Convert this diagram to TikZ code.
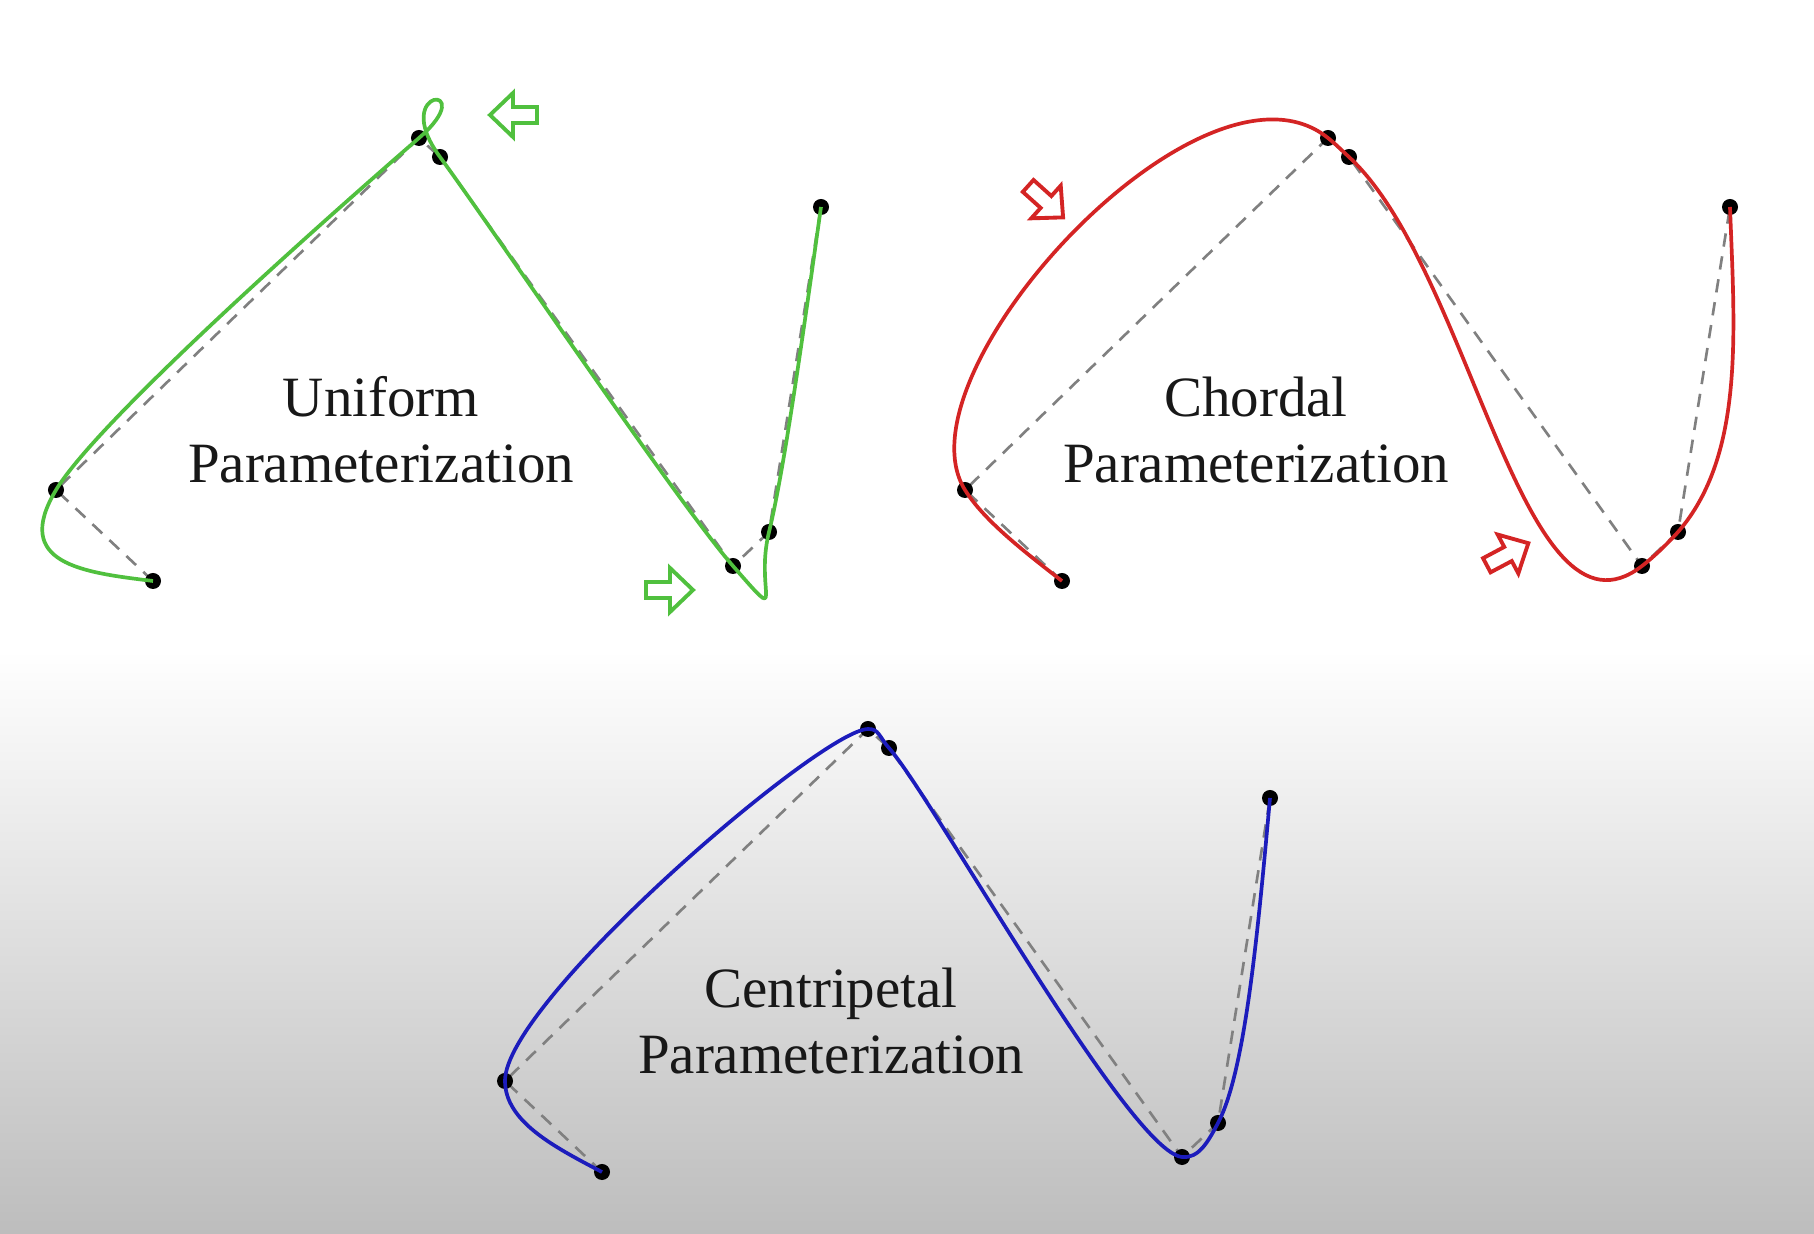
\documentclass[tikz,border=0pt]{standalone}
\usepackage{fontspec}
\setmainfont{Liberation Serif}
\definecolor{cgreen}{RGB}{80,192,62}
\definecolor{cred}{RGB}{212,36,36}
\definecolor{cblue}{RGB}{28,28,188}
\definecolor{bgbot}{RGB}{189,189,189}
\definecolor{txt}{RGB}{24,24,24}
\begin{document}
\begin{tikzpicture}[x=0.01cm,y=-0.01cm,
 ctrl/.style={draw=gray, dash pattern=on 3.8pt off 2.8pt, line width=0.75pt},
 curve/.style={line width=1.05pt, line join=round},
 lbl/.style={font=\fontsize{16.2}{19}\selectfont, text=txt, inner sep=0pt, anchor=base},
 blockarrow/.pic={\draw[pic actions, line width=1.1pt, line join=miter] (-24,-8) -- (0,-8) -- (0,-22) -- (23,0) -- (0,22) -- (0,8) -- (-24,8) -- cycle;}
]
\fill[white] (0,0) rectangle (1814,1234);
\shade[top color=white, bottom color=bgbot] (0,650) rectangle (1814,1234);
\useasboundingbox (0,0) rectangle (1814,1234);

% ---------------- Uniform (green) ----------------
\begin{scope}
\coordinate (g0) at (153,581);
\coordinate (g1) at (56,490);
\coordinate (g2) at (419,138);
\coordinate (g3) at (440,157);
\coordinate (g4) at (733,566);
\coordinate (g5) at (769,532);
\coordinate (g6) at (821,207);
\draw[ctrl] (g0) -- (g1) -- (g2) -- (g3) -- (g4) -- (g5) -- (g6);
\foreach \p in {g0,g1,g2,g3,g4,g5,g6} \fill[black] (\p) circle[radius=0.8mm];
\draw[curve, cgreen] (g0) .. controls (82.3,572.4) and (11.7,563.8) .. (g1)
  .. controls (100.3,416.2) and (355,193.5) .. (g2)
  .. controls (483,82.5) and (387.7,85.7) .. (g3)
  .. controls (492.3,228.3) and (678.2,503.5) .. (g4)
  .. controls (787.8,628.5) and (754.3,591.8) .. (g5)
  .. controls (783.7,472.2) and (802.3,339.6) .. (g6);
\end{scope}
\node[lbl] (u1) at (381,416.5) {Uniform};
\node[lbl] (u2) at (381,482.5) {Parameterization};
\pic (ga1) [draw=cgreen, rotate=180] at (513,115) {blockarrow};
\pic (ga2) [draw=cgreen] at (670,590) {blockarrow};

% ---------------- Chordal (red) ----------------
\begin{scope}[shift={(909,0)}]
\coordinate (r0) at (153,581);
\coordinate (r1) at (56,490);
\coordinate (r2) at (419,138);
\coordinate (r3) at (440,157);
\coordinate (r4) at (733,566);
\coordinate (r5) at (769,532);
\coordinate (r6) at (821,207);
\draw[ctrl] (r0) -- (r1) -- (r2) -- (r3) -- (r4) -- (r5) -- (r6);
\foreach \p in {r0,r1,r2,r3,r4,r5,r6} \fill[black] (\p) circle[radius=0.8mm];
\draw[curve, cred] (r0) .. controls (114.0,550.7) and (75.0,520.4) .. (r1)
  .. controls (-16.1,374.3) and (294.2,37.2) .. (r2)
  .. controls (426.0,143.6) and (433.1,150.6) .. (r3)
  .. controls (562.9,270.8) and (613.2,658.6) .. (r4)
  .. controls (744.8,556.9) and (758.2,544.0) .. (r5)
  .. controls (836,455) and (825.5,330) .. (r6);
\end{scope}
\node[lbl] (c1) at (1256,416.5) {Chordal};
\node[lbl] (c2) at (1256,482.5) {Parameterization};
\pic (ra1) [draw=cred, rotate=-42] at (1046,202) {blockarrow};
\pic (ra2) [draw=cred, rotate=28] at (1508,554) {blockarrow};

% ---------------- Centripetal (blue) ----------------
\begin{scope}[shift={(449,591)}]
\coordinate (b0) at (153,581);
\coordinate (b1) at (56,490);
\coordinate (b2) at (419,138);
\coordinate (b3) at (440,157);
\coordinate (b4) at (733,566);
\coordinate (b5) at (769,532);
\coordinate (b6) at (821,207);
\draw[ctrl] (b0) -- (b1) -- (b2) -- (b3) -- (b4) -- (b5) -- (b6);
\foreach \p in {b0,b1,b2,b3,b4,b5,b6} \fill[black] (\p) circle[radius=0.8mm];
\draw[curve, cblue] (b0) .. controls (104.7,555.7) and (56.3,530.5) .. (b1)
  .. controls (55.35,411.1) and (371.9,138.8) .. (b2)
  .. controls (430.1,137.8) and (429.9,145.7) .. (b3)
  .. controls (482.6,204.7) and (680.6,560.9) .. (b4)
  .. controls (749.5,567.6) and (758.5,551.9) .. (b5)
  .. controls (796.1,480.7) and (808.6,343.8) .. (b6);
\end{scope}
\node[lbl] (p1) at (831,1007.5) {Centripetal};
\node[lbl] (p2) at (831,1073.5) {Parameterization};
\end{tikzpicture}
\end{document}
